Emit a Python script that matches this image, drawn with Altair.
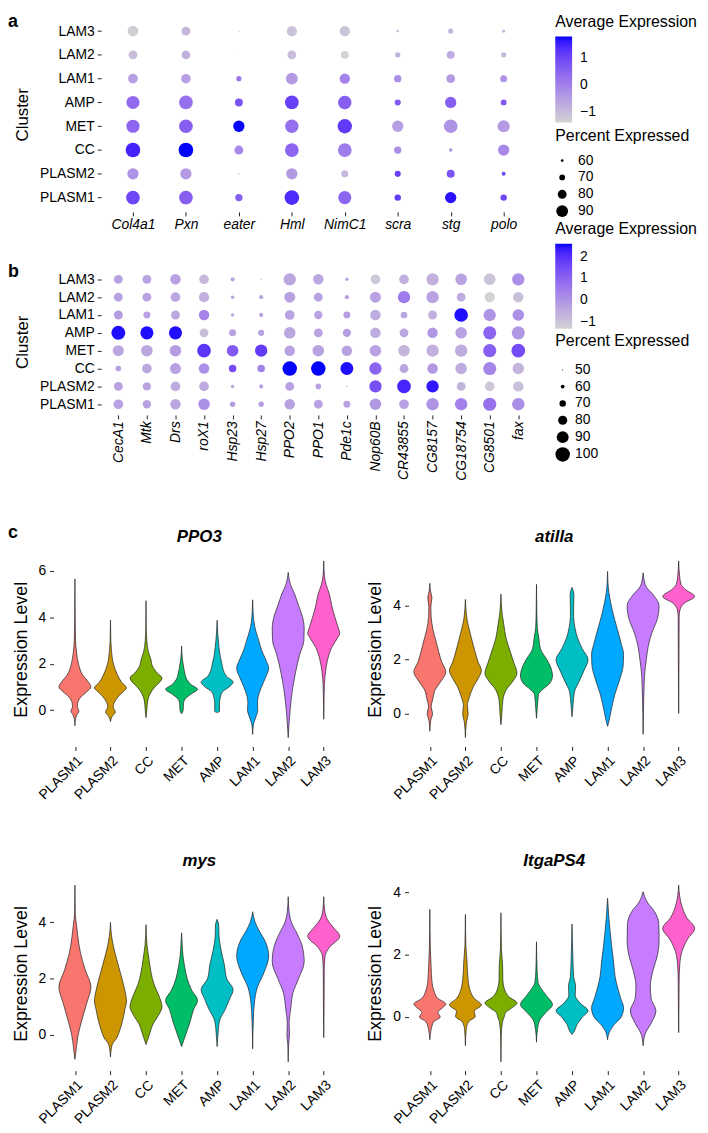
import math
import altair as alt
import pandas as pd

FONT = "Liberation Sans"

CLUSTERS = ["PLASM1", "PLASM2", "CC", "MET", "AMP", "LAM1", "LAM2", "LAM3"]
CLUSTER_COLORS = ["#F8766D", "#CD9600", "#7CAE00", "#00BE67", "#00BFC4", "#00A9FF", "#C77CFF", "#FF61CC"]

# ---------------- panel a (values in CLUSTERS order) ----------------
GENES_A = ["Col4a1", "Pxn", "eater", "Hml", "NimC1", "scra", "stg", "polo"]
AVG_A = {
    "Col4a1": [1.0, -0.3, 1.5, 0.5, 0.4, -0.5, -1.0, -1.3],
    "Pxn":    [0.6, -0.4, 1.81, 0.6, 0.3, -0.5, -0.8, -0.9],
    "eater":  [0.6, 0.0, -0.1, 1.8, 0.8, 0.2, -0.8, -0.5],
    "Hml":    [1.4, -0.4, 0.5, 0.3, 1.1, -0.4, -1.0, -1.1],
    "NimC1":  [0.5, -0.9, 0.1, 1.2, 0.6, 0.0, -1.37, -1.1],
    "scra":   [1.2, 1.1, -0.2, -0.5, 0.7, -0.2, -0.8, -1.0],
    "stg":    [1.7, 0.8, -0.3, -0.3, 0.6, -0.4, -0.7, -0.9],
    "polo":   [1.0, 1.0, -0.1, -0.4, 0.7, -0.3, -0.9, -0.9],
}
PCT_A = {
    "Col4a1": [96, 88, 99, 94, 94, 83, 80, 86],
    "Pxn":    [96, 88, 99, 96, 96, 82, 79, 80],
    "eater":  [75, 55, 80, 88, 77, 68, 53, 55],
    "Hml":    [99, 88, 96, 95, 96, 90, 80, 85],
    "NimC1":  [94, 74, 96, 98, 95, 85, 77, 85],
    "scra":   [72, 71, 75, 88, 71, 75, 68, 60],
    "stg":    [88, 77, 62, 96, 88, 80, 77, 68],
    "polo":   [72, 64, 88, 91, 70, 74, 68, 62],
}

# ---------------- panel b ----------------
GENES_B = ["CecA1", "Mtk", "Drs", "roX1", "Hsp23", "Hsp27", "PPO2", "PPO1", "Pde1c",
           "Nop60B", "CR43855", "CG8157", "CG18754", "CG8501", "fax"]
AVG_B = {
    "CecA1":   [-0.3, -0.3, -0.3, -0.4, 2.5, -0.2, -0.3, -0.3],
    "Mtk":     [-0.3, -0.3, -0.4, -0.4, 2.5, -0.3, -0.3, -0.3],
    "Drs":     [-0.4, -0.5, -0.3, -0.2, 2.5, -0.4, -0.4, -0.3],
    "roX1":    [0.1, -0.5, 0.1, 1.9, -0.9, 0.3, -0.6, -0.8],
    "Hsp23":   [-0.2, -0.4, 1.5, 1.2, -0.3, -0.4, -0.4, -0.4],
    "Hsp27":   [-0.2, -0.3, 0.4, 1.8, -0.3, -0.4, -0.4, -0.5],
    "PPO2":    [-0.3, -0.3, 2.6, -0.3, -0.4, -0.3, -0.3, -0.4],
    "PPO1":    [-0.3, -0.3, 2.6, -0.3, -0.3, -0.3, -0.3, -0.4],
    "Pde1c":   [-0.3, -0.4, 2.5, -0.3, -0.2, -0.2, -0.3, -0.4],
    "Nop60B":  [-0.1, 1.4, 1.0, -0.3, -0.5, -0.5, -0.3, -1.1],
    "CR43855": [-0.3, 2.2, -0.4, -0.7, -0.4, -0.4, 0.5, -0.6],
    "CG8157":  [0.0, 2.4, -0.1, -0.6, -0.1, -0.6, -0.3, -0.6],
    "CG18754": [0.4, -0.7, -0.5, -0.5, -0.3, 2.5, -0.5, -0.3],
    "CG8501":  [0.7, -1.1, 0.3, 1.1, 1.0, 0.0, -1.32, -1.0],
    "fax":     [0.1, -0.9, -0.7, 1.5, -0.1, 0.1, -0.9, 0.1],
}
PCT_B = {
    "CecA1":   [82, 79, 67, 87, 98, 79, 79, 79],
    "Mtk":     [77, 77, 82, 89, 95, 72, 79, 79],
    "Drs":     [85, 82, 87, 89, 95, 79, 82, 85],
    "roX1":    [89, 82, 85, 97, 79, 85, 84, 82],
    "Hsp23":   [66, 59, 74, 89, 72, 59, 59, 62],
    "Hsp27":   [66, 61, 74, 92, 69, 62, 62, 51],
    "PPO2":    [85, 79, 100, 85, 89, 82, 87, 92],
    "PPO1":    [79, 67, 100, 89, 79, 77, 79, 85],
    "Pde1c":   [72, 51, 94, 85, 77, 72, 62, 59],
    "Nop60B":  [89, 92, 92, 89, 85, 85, 87, 82],
    "CR43855": [82, 97, 79, 89, 79, 71, 92, 82],
    "CG8157":  [92, 92, 85, 92, 85, 79, 92, 92],
    "CG18754": [92, 79, 89, 92, 89, 97, 79, 89],
    "CG8501":  [95, 82, 95, 95, 95, 92, 85, 89],
    "fax":     [92, 85, 89, 97, 95, 89, 85, 92],
}

# ---------------- panel c: violin outlines (expression level, relative width) ----------------
PPO3 = {
    "PLASM1": [(-0.67, 0), (-0.4, 0.03), (-0.2, 0.12), (-0.05, 0.25), (0.15, 0.15), (0.3, 0.17), (0.55, 0.35), (0.8, 0.75), (1.0, 1.0), (1.25, 0.8), (1.5, 0.5), (2.0, 0.22), (2.5, 0.1), (3.0, 0.04), (4.0, 0.015), (5.65, 0)],
    "PLASM2": [(-0.49, 0), (-0.3, 0.08), (-0.08, 0.3), (0.15, 0.17), (0.35, 0.25), (0.6, 0.5), (0.8, 0.8), (0.96, 1.0), (1.2, 0.7), (1.5, 0.45), (2.0, 0.18), (2.6, 0.06), (3.0, 0.02), (3.88, 0)],
    "CC":     [(-0.32, 0), (0, 0.05), (0.4, 0.1), (0.7, 0.25), (1.0, 0.55), (1.2, 0.85), (1.39, 1.0), (1.6, 0.7), (1.9, 0.4), (2.2, 0.3), (2.5, 0.15), (3.0, 0.05), (3.5, 0.015), (4.71, 0)],
    "MET":    [(-0.15, 0), (0.0, 0.1), (0.3, 0.12), (0.5, 0.25), (0.7, 0.6), (0.9, 1.0), (1.1, 0.6), (1.3, 0.35), (1.6, 0.2), (1.9, 0.12), (2.2, 0.05), (2.76, 0)],
    "AMP":    [(-0.1, 0), (-0.05, 0.15), (0.3, 0.15), (0.55, 0.2), (0.8, 0.35), (1.0, 0.75), (1.21, 1.0), (1.45, 0.6), (1.7, 0.4), (2.0, 0.3), (2.3, 0.2), (2.7, 0.12), (3.2, 0.05), (3.87, 0)],
    "LAM1":   [(-1.04, 0), (-0.6, 0.05), (-0.3, 0.2), (0.0, 0.32), (0.3, 0.3), (0.6, 0.35), (1.0, 0.55), (1.4, 0.8), (1.8, 1.0), (2.2, 0.8), (2.6, 0.55), (3.0, 0.38), (3.4, 0.2), (3.8, 0.08), (4.2, 0.03), (4.75, 0)],
    "LAM2":   [(-1.18, 0), (-0.6, 0.05), (0, 0.12), (0.8, 0.25), (1.6, 0.45), (2.4, 0.72), (3.0, 0.98), (3.5, 1.0), (4.0, 0.9), (4.5, 0.65), (5.0, 0.4), (5.4, 0.15), (5.93, 0)],
    "LAM3":   [(-0.39, 0), (0.5, 0.02), (1.1, 0.04), (1.6, 0.1), (2.2, 0.25), (2.7, 0.5), (3.1, 0.85), (3.3, 1.0), (3.6, 0.88), (4.0, 0.7), (4.5, 0.5), (5.0, 0.35), (5.4, 0.15), (5.8, 0.04), (6.42, 0)],
}
ATILLA = {
    "PLASM1": [(-0.66, 0), (-0.25, 0.06), (0, 0.17), (0.25, 0.08), (0.5, 0.17), (0.9, 0.35), (1.2, 0.7), (1.55, 1.0), (1.9, 0.75), (2.3, 0.55), (2.7, 0.38), (3.1, 0.2), (3.6, 0.08), (3.95, 0.06), (4.3, 0.13), (4.55, 0.04), (4.84, 0)],
    "PLASM2": [(-0.9, 0), (-0.35, 0.06), (0, 0.17), (0.3, 0.12), (0.6, 0.25), (1.0, 0.5), (1.3, 0.8), (1.6, 1.0), (1.9, 0.8), (2.3, 0.6), (2.7, 0.42), (3.1, 0.25), (3.5, 0.1), (3.9, 0.03), (4.24, 0)],
    "CC":     [(-0.42, 0), (0, 0.06), (0.5, 0.12), (0.9, 0.35), (1.2, 0.75), (1.49, 1.0), (1.9, 0.8), (2.3, 0.58), (2.8, 0.32), (3.3, 0.18), (3.8, 0.06), (4.44, 0)],
    "MET":    [(-0.18, 0), (0.3, 0.06), (0.7, 0.12), (0.9, 0.4), (1.1, 0.8), (1.4, 1.0), (1.7, 0.9), (2.0, 0.65), (2.4, 0.25), (2.8, 0.15), (3.2, 0.05), (3.8, 0.02), (4.8, 0)],
    "AMP":    [(-0.12, 0), (0.3, 0.06), (0.8, 0.15), (1.2, 0.45), (1.6, 0.75), (2.0, 1.0), (2.4, 0.65), (2.8, 0.35), (3.2, 0.18), (3.6, 0.1), (4.0, 0.1), (4.4, 0.12), (4.69, 0)],
    "LAM1":   [(-0.48, 0), (-0.25, 0.1), (0.1, 0.22), (0.7, 0.45), (1.3, 0.78), (1.8, 0.98), (2.2, 1.0), (2.6, 0.85), (3.2, 0.58), (3.7, 0.35), (4.1, 0.2), (4.5, 0.08), (4.9, 0.02), (5.28, 0)],
    "LAM2":   [(-0.78, 0), (0.0, 0.02), (1.0, 0.06), (1.5, 0.1), (2.0, 0.2), (2.5, 0.32), (3.0, 0.55), (3.5, 0.88), (4.0, 1.0), (4.4, 0.65), (4.7, 0.2), (5.0, 0.05), (5.23, 0)],
    "LAM3":   [(0, 0), (2.0, 0.02), (3.6, 0.03), (3.85, 0.08), (4.1, 0.35), (4.35, 1.0), (4.6, 0.45), (4.8, 0.15), (5.1, 0.06), (5.67, 0)],
}
MYS = {
    "PLASM1": [(-0.86, 0), (-0.4, 0.1), (0, 0.2), (0.5, 0.42), (1.1, 0.72), (1.7, 1.0), (2.3, 0.65), (2.9, 0.35), (3.5, 0.18), (3.9, 0.1), (4.3, 0.02), (5.31, 0)],
    "PLASM2": [(-0.78, 0), (-0.35, 0.1), (-0.1, 0.4), (0.2, 0.6), (0.5, 0.75), (0.9, 0.9), (1.2, 1.0), (1.7, 0.85), (2.2, 0.62), (2.7, 0.38), (3.1, 0.2), (3.5, 0.07), (3.99, 0)],
    "CC":     [(-0.34, 0), (0, 0.2), (0.4, 0.45), (0.7, 0.78), (1.0, 1.0), (1.4, 0.8), (1.8, 0.5), (2.2, 0.32), (2.7, 0.18), (3.2, 0.06), (3.91, 0)],
    "MET":    [(-0.41, 0), (0, 0.25), (0.5, 0.55), (0.9, 0.75), (1.22, 1.0), (1.6, 0.62), (2.0, 0.35), (2.4, 0.2), (2.8, 0.09), (3.2, 0.04), (3.62, 0)],
    "AMP":    [(-0.41, 0), (0, 0.05), (0.5, 0.15), (0.9, 0.5), (1.3, 0.8), (1.6, 1.0), (2.0, 0.6), (2.5, 0.45), (3.0, 0.25), (3.5, 0.12), (3.9, 0.1), (4.1, 0)],
    "LAM1":   [(-0.49, 0), (0.5, 0.04), (1.1, 0.1), (1.7, 0.3), (2.2, 0.7), (2.8, 1.0), (3.3, 0.8), (3.7, 0.4), (4.0, 0.15), (4.37, 0)],
    "LAM2":   [(-0.95, 0), (-0.3, 0.03), (0, 0.08), (0.4, 0.06), (1.0, 0.17), (1.5, 0.3), (2.0, 0.65), (2.6, 1.0), (3.2, 0.85), (3.6, 0.55), (4.0, 0.2), (4.4, 0.05), (4.9, 0)],
    "LAM3":   [(-0.09, 0), (1.0, 0.02), (2.3, 0.03), (2.8, 0.08), (3.1, 0.35), (3.5, 1.0), (3.8, 0.62), (4.1, 0.22), (4.4, 0.06), (4.9, 0)],
}
ITGAPS4 = {
    "PLASM1": [(-0.73, 0), (-0.4, 0.08), (-0.15, 0.25), (0.0, 0.65), (0.15, 0.5), (0.3, 0.8), (0.42, 1.0), (0.6, 0.5), (0.85, 0.25), (1.2, 0.12), (1.6, 0.08), (2.2, 0.03), (3.46, 0)],
    "PLASM2": [(-0.92, 0), (-0.4, 0.05), (-0.15, 0.2), (0.02, 0.62), (0.18, 0.55), (0.39, 1.0), (0.6, 0.55), (0.85, 0.3), (1.3, 0.15), (1.8, 0.1), (2.3, 0.03), (3.3, 0)],
    "CC":     [(-1.44, 0), (-0.6, 0.02), (-0.15, 0.1), (0, 0.2), (0.15, 0.3), (0.3, 0.7), (0.45, 1.0), (0.65, 0.5), (0.85, 0.25), (1.2, 0.12), (1.7, 0.1), (2.2, 0.03), (3.35, 0)],
    "MET":    [(-0.81, 0), (-0.4, 0.06), (-0.1, 0.2), (0.15, 0.6), (0.4, 1.0), (0.7, 0.6), (0.95, 0.25), (1.1, 0.1), (1.5, 0.04), (2.42, 0)],
    "AMP":    [(-0.56, 0), (-0.45, 0.15), (-0.25, 0.3), (0, 0.65), (0.2, 1.0), (0.45, 0.5), (0.7, 0.2), (1.0, 0.22), (1.3, 0.1), (1.8, 0.06), (2.99, 0)],
    "LAM1":   [(-0.73, 0), (-0.5, 0.1), (-0.25, 0.4), (0, 0.85), (0.3, 1.0), (0.6, 0.82), (0.9, 0.65), (1.3, 0.47), (1.8, 0.37), (2.3, 0.25), (2.8, 0.15), (3.2, 0.08), (3.82, 0)],
    "LAM2":   [(-0.92, 0), (-0.55, 0.12), (-0.2, 0.5), (0.2, 0.8), (0.6, 0.5), (1.0, 0.45), (1.5, 0.62), (2.0, 0.9), (2.5, 1.0), (3.0, 0.98), (3.4, 0.7), (3.7, 0.25), (4.03, 0)],
    "LAM3":   [(-0.5, 0), (0.5, 0.02), (1.2, 0.03), (1.7, 0.07), (2.1, 0.2), (2.5, 0.55), (2.85, 1.0), (3.2, 0.5), (3.6, 0.18), (3.9, 0.06), (4.24, 0)],
}

TXT = "black"
VW, VH = 294, 196   # violin panel plot size
XOFF = 48           # dot panels: room for cluster labels inside the view
DW = 438            # dot panels: width of the dot area
LEGX = XOFF + 458   # legend left edge inside the dot panels


def text_mark(label, x, y, size, weight="bold", style="normal", align="left"):
    return alt.Chart(pd.DataFrame({"t": [label]})).mark_text(
        align=align, baseline="alphabetic", fontSize=size, fontWeight=weight, fontStyle=style,
        font=FONT, color=TXT
    ).encode(text="t:N", x=alt.value(x), y=alt.value(y))


def dot_panel(genes, avg, pct, row_step, letter, p0, dmax, max_diam, b_style,
              color_leg_y, size_leg_y, size_vals, grad_len, grad_vals, size_row_pad, size_label_off,
              size_title_pad):
    rows = []
    for g in genes:
        for i, c in enumerate(CLUSTERS):
            rows.append({"gene": g, "cluster": c, "avg": avg[g][i], "pct": pct[g][i]})
    df = pd.DataFrame(rows)
    lo, hi = float(df["avg"].min()), float(df["avg"].max())
    height = row_step * 8.2
    if b_style:
        xaxis = alt.Axis(title=None, labelFontStyle="italic", labelAngle=-90, labelAlign="right",
                         labelBaseline="middle", labelPadding=2, tickSize=4, domain=False, labelOverlap=False)
    else:
        xaxis = alt.Axis(title=None, labelFontStyle="italic", labelAngle=0, labelAlign="center",
                         labelBaseline="top", labelPadding=2, tickSize=4, domain=False, labelOverlap=False)
    pts = alt.Chart(df).transform_calculate(
        d=f"datum.pct - {p0}"
    ).mark_circle(opacity=1, strokeWidth=0).encode(
        x=alt.X("gene:N", sort=genes, scale=alt.Scale(type="point", padding=0.6, range=[XOFF, XOFF + DW]),
                axis=xaxis),
        y=alt.Y("cluster:N", sort=CLUSTERS[::-1], scale=alt.Scale(type="point", padding=0.6),
                axis=alt.Axis(title="Cluster", titleFontSize=17, titleFontWeight="normal", titlePadding=8,
                              labelPadding=3, tickSize=4, domain=False, labelOverlap=False, offset=-XOFF)),
        color=alt.Color("avg:Q", scale=alt.Scale(domain=[lo, hi], range=["#D3D3D3", "#0000FF"], interpolate="lab"),
                        legend=alt.Legend(orient="none", legendX=LEGX, legendY=color_leg_y,
                                          direction="vertical", title="Average Expression",
                                          gradientLength=grad_len, gradientThickness=17,
                                          gradientStrokeWidth=0, values=grad_vals, format="d", labelOffset=8,
                                          titlePadding=7, labelOverlap=False)),
        size=alt.Size("d:Q", scale=alt.Scale(type="pow", exponent=2, domain=[0, dmax],
                                             range=[0, math.pi * (max_diam / 2) ** 2]),
                      legend=alt.Legend(orient="none", legendX=LEGX, legendY=size_leg_y,
                                        title="Percent Expressed",
                                        values=size_vals, labelExpr=f"format(datum.value + {p0}, 'd')",
                                        symbolFillColor="black", symbolStrokeWidth=0, symbolOpacity=1,
                                        symbolType="circle", rowPadding=size_row_pad, labelOffset=size_label_off,
                                        titlePadding=size_title_pad)),
    )
    lab = text_mark(letter, -46, 10 if not b_style else 8.5, 18)
    return alt.layer(pts, lab).properties(width=XOFF + DW, height=height)


def violin_panel(gene, prof, letter=None):
    rows = []
    for i, c in enumerate(CLUSTERS):
        for (y, w) in sorted(prof[c]):
            rows.append({"cluster": c, "idx": i + 1, "y": y, "w": w})
    df = pd.DataFrame(rows)
    ymin, ymax = float(df["y"].min()), float(df["y"].max())
    pad = 0.05 * (ymax - ymin)
    lo, hi = ymin - pad, ymax + pad
    ticks = [v for v in range(-10, 12, 2) if lo <= v <= hi]
    label_expr = "[" + ",".join(f"'{c}'" for c in CLUSTERS) + "][datum.value - 1]"
    area = alt.Chart(df).transform_calculate(
        xl="datum.idx - 0.45 * datum.w", xr="datum.idx + 0.45 * datum.w"
    ).mark_area(orient="horizontal", interpolate="monotone", stroke="#222222", strokeWidth=0.7, opacity=1).encode(
        y=alt.Y("y:Q", scale=alt.Scale(domain=[lo, hi], nice=False, zero=False),
                axis=alt.Axis(title="Expression Level", values=ticks, format="d", titleFontSize=18,
                              titleFontWeight="normal", titlePadding=8, labelPadding=4, tickSize=4,
                              domain=False, grid=False)),
        x=alt.X("xl:Q", scale=alt.Scale(domain=[0.4, 8.6], nice=False, zero=False),
                axis=alt.Axis(title=None, values=list(range(1, 9)), labelExpr=label_expr, labelAngle=-45,
                              labelAlign="right", labelBaseline="top", labelPadding=3, tickSize=4,
                              domain=False, grid=False, labelOverlap=False, labelBound=False)),
        x2="xr:Q",
        color=alt.Color("cluster:N", scale=alt.Scale(domain=CLUSTERS, range=CLUSTER_COLORS), legend=None),
        detail="cluster:N",
    )
    layers = [area, text_mark(gene, VW / 2, -10, 17, style="italic", align="center")]
    if letter:
        layers.append(text_mark(letter, -46, -14.5, 18))
    return alt.layer(*layers).properties(width=VW, height=VH)


chart_a = dot_panel(GENES_A, AVG_A, PCT_A, 24.0, "a", 51, 49, 17.0, False,
                    -3, 112, [9, 19, 29, 39], 86.6, [-1, 0, 1], 3, 9, 10)
chart_b = dot_panel(GENES_B, AVG_B, PCT_B, 18.0, "b", 46, 54, 16.5, True,
                    -48, 65, [4, 14, 24, 34, 44, 54], 85.7, [-1, 0, 1, 2], 3, 5, 14)

IND = dict(color="independent", size="independent")
row_c1 = alt.hconcat(violin_panel("PPO3", PPO3, "c"), violin_panel("atilla", ATILLA), spacing=22)
row_c2 = alt.hconcat(violin_panel("mys", MYS), violin_panel("ItgaPS4", ITGAPS4), spacing=22)

rows_c = alt.vconcat(row_c1, row_c2, spacing=51).resolve_scale(**IND)
rows_bc = alt.vconcat(chart_b, rows_c, spacing=43).resolve_scale(**IND)
chart = alt.vconcat(chart_a, rows_bc, spacing=-11).resolve_scale(**IND).properties(
    padding=0
).configure_view(stroke=None).configure_axis(
    labelFont=FONT, titleFont=FONT, labelFontSize=14, labelColor=TXT, titleColor=TXT,
    tickColor="#222222", tickWidth=1, grid=False
).configure_legend(
    titleFont=FONT, labelFont=FONT, titleFontSize=16, titleFontWeight="normal", labelFontSize=14,
    titleColor=TXT, labelColor=TXT, titleLimit=300
)

chart.save("out.html", embed_options={"renderer": "svg", "actions": False})
